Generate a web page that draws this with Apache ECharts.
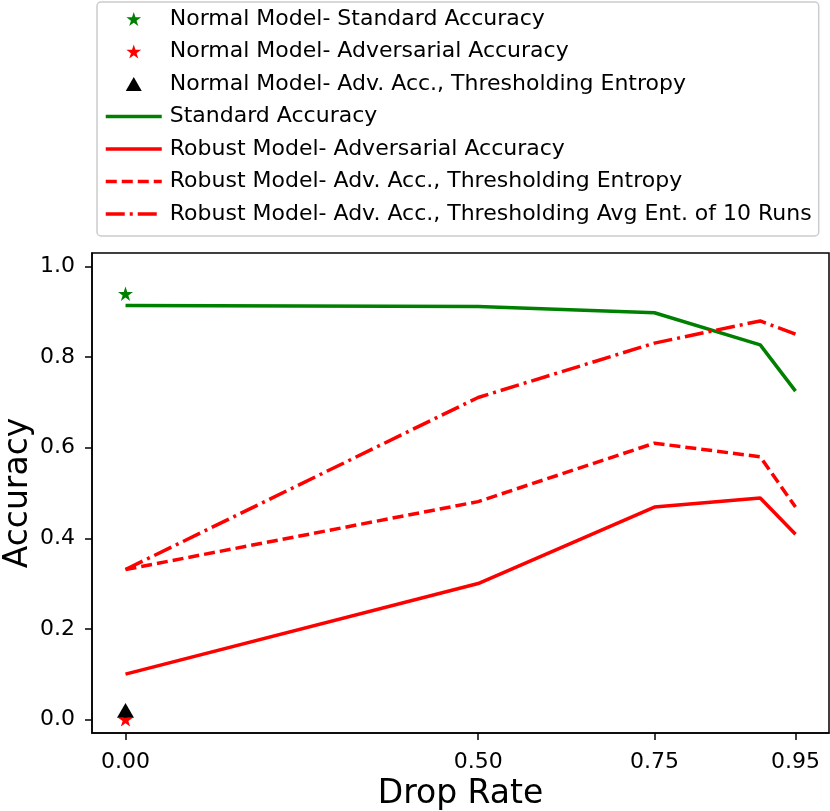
<!DOCTYPE html>
<html>
<head>
<meta charset="utf-8">
<script src="https://cdn.jsdelivr.net/npm/echarts@6/dist/echarts.min.js"></script>
<style>html,body{margin:0;padding:0;background:#fff}#c{width:830px;height:811px}</style>
</head>
<body>
<div id="c"></div>
<script>
const dropRates = [0, 0.5, 0.75, 0.9, 0.95];
const standardAcc = [0.914, 0.912, 0.898, 0.827, 0.725];
const robustAdvAcc = [0.100, 0.300, 0.469, 0.489, 0.409];
const robustThreshEntropy = [0.331, 0.481, 0.610, 0.580, 0.469];
const robustThreshAvgEnt = [0.331, 0.711, 0.831, 0.880, 0.851];
const normalStdAcc = [[0, 0.94]];
const normalAdvAcc = [[0, 0.0]];
const normalThreshEntropy = [[0, 0.02]];
const xTicks = [0, 0.5, 0.75, 0.95];
const yTicks = [0, 0.2, 0.4, 0.6, 0.8, 1.0];
const xTitle = 'Drop Rate';
const yTitle = 'Accuracy';

const names = [
  'Normal Model- Standard Accuracy',
  'Normal Model- Adversarial Accuracy',
  'Normal Model- Adv. Acc., Thresholding Entropy',
  'Standard Accuracy',
  'Robust Model- Adversarial Accuracy',
  'Robust Model- Adv. Acc., Thresholding Entropy',
  'Robust Model- Adv. Acc., Thresholding Avg Ent. of 10 Runs'
];
const star = 'path://M1,0 L1.224,0.692 L1.951,0.691 L1.362,1.118 L1.588,1.809 L1,1.381 L0.412,1.809 L0.638,1.118 L0.049,0.691 L0.776,0.692 Z';
const tri = 'path://M1,0 L2,1.75 L0,1.75 Z';
const pair = arr => dropRates.map((x, i) => [x, arr[i]]);
const font = 'DejaVu Sans';

const legendData = names.map((n, i) => i < 3 ? {name: n} : {name: n, itemStyle: {opacity: 0}});

const chart = echarts.init(document.getElementById('c'), null, {renderer: 'canvas'});
chart.setOption({
  animation: false,
  backgroundColor: '#fff',
  textStyle: {fontFamily: font},
  legend: {
    orient: 'vertical', left: 97, top: 2,
    padding: [6, 7, 11, 7],
    itemWidth: 56, itemHeight: 14, itemGap: 10.5,
    borderColor: '#cccccc', borderWidth: 1.5, borderRadius: 4,
    lineStyle: {width: 3.5},
    textStyle: {fontFamily: font, fontSize: 22, color: '#000', lineHeight: 22, padding: [0, 0, 0, 3]},
    data: legendData
  },
  graphic: [{
    type: 'text', x: 18, y: 493, rotation: Math.PI / 2, silent: true,
    style: {text: yTitle, fontFamily: font, fontSize: 33, fill: '#000', align: 'center', verticalAlign: 'middle'}
  }],
  grid: {left: 92, right: 1, top: 253, bottom: 78, outerBoundsMode: 'none', containLabel: false,
    show: true, borderColor: '#000', borderWidth: 1.5, backgroundColor: 'transparent'},
  xAxis: {
    type: 'value', min: -0.0475, max: 0.9975,
    name: xTitle, nameLocation: 'middle', nameGap: 40,
    nameTextStyle: {fontFamily: font, fontSize: 33, color: '#000'},
    axisLine: {show: true, onZero: false, lineStyle: {color: '#000', width: 1.5}},
    axisTick: {show: true, length: 7, lineStyle: {color: '#000', width: 1.5}, customValues: xTicks},
    axisLabel: {fontFamily: font, fontSize: 22, color: '#000', margin: 18, customValues: xTicks,
      formatter: v => v.toFixed(2)},
    splitLine: {show: false}
  },
  yAxis: {
    type: 'value', min: -0.03, max: 1.03,
    axisLine: {show: true, onZero: false, lineStyle: {color: '#000', width: 1.5}},
    axisTick: {show: true, length: 7, lineStyle: {color: '#000', width: 1.5}, customValues: yTicks},
    axisLabel: {fontFamily: font, fontSize: 22, color: '#000', margin: 17, customValues: yTicks,
      formatter: v => v.toFixed(1)},
    splitLine: {show: false}
  },
  series: [
    {name: names[3], type: 'line', data: pair(standardAcc), symbol: 'none', z: 2,
      lineStyle: {color: '#008000', width: 3.5}, itemStyle: {color: '#008000'}},
    {name: names[4], type: 'line', data: pair(robustAdvAcc), symbol: 'none', z: 2,
      lineStyle: {color: '#ff0000', width: 3.5}, itemStyle: {color: '#ff0000'}},
    {name: names[5], type: 'line', data: pair(robustThreshEntropy), symbol: 'none', z: 2,
      lineStyle: {color: '#ff0000', width: 3.5, type: [11, 5]}, itemStyle: {color: '#ff0000'}},
    {name: names[6], type: 'line', data: pair(robustThreshAvgEnt), symbol: 'none', z: 2,
      lineStyle: {color: '#ff0000', width: 3.5, type: [19, 5, 3, 5]}, itemStyle: {color: '#ff0000'}},
    {name: names[0], type: 'scatter', data: normalStdAcc, symbol: star, symbolSize: 15, symbolKeepAspect: true, z: 3,
      itemStyle: {color: '#008000', opacity: 1}},
    {name: names[1], type: 'scatter', data: normalAdvAcc, symbol: star, symbolSize: 15, symbolKeepAspect: true, z: 3,
      itemStyle: {color: '#ff0000', opacity: 1}},
    {name: names[2], type: 'scatter', data: normalThreshEntropy, symbol: tri, symbolSize: 17, symbolKeepAspect: true, z: 4,
      itemStyle: {color: '#000', opacity: 1}}
  ]
});
</script>
</body>
</html>
